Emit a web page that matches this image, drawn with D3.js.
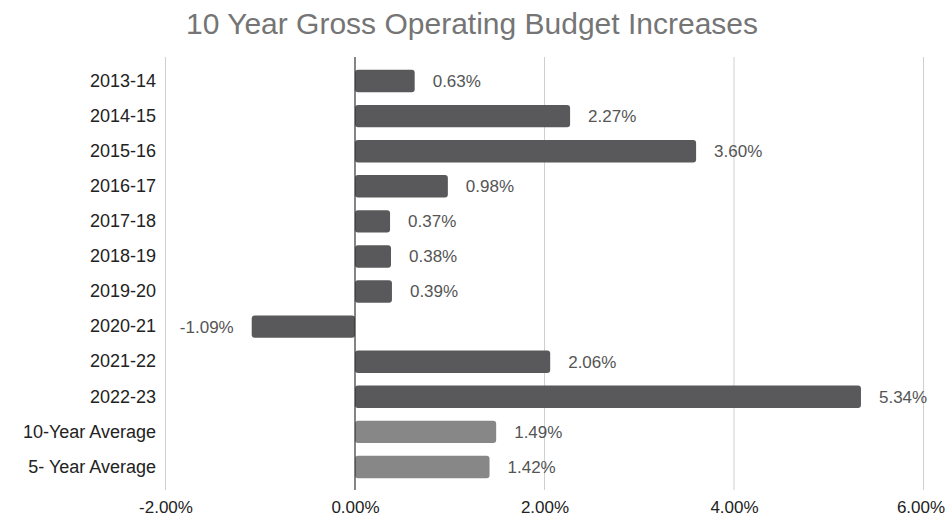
<!DOCTYPE html>
<html>
<head>
<meta charset="utf-8">
<script src="https://cdn.jsdelivr.net/npm/d3@7"></script>
<style>
  body { margin: 0; background: #fff; }
  text { font-family: "Liberation Sans", Arial, sans-serif; }
</style>
</head>
<body>
<div id="chart"></div>
<script>
// chart data
var categories = ["2013-14", "2014-15", "2015-16", "2016-17", "2017-18", "2018-19",
  "2019-20", "2020-21", "2021-22", "2022-23", "10-Year Average", "5- Year Average"];
var values = [0.63, 2.27, 3.60, 0.98, 0.37, 0.38, 0.39, -1.09, 2.06, 5.34, 1.49, 1.42];
var isAverage = [false, false, false, false, false, false, false, false, false, false, true, true];
var xTicks = [-2, 0, 2, 4, 6];

var svgWidth = 947;
var svgHeight = 523;

var svg = d3.select("#chart")
  .append("svg")
  .attr("width", svgWidth)
  .attr("height", svgHeight);

var rows = categories.map(function(c, i) {
  return { cat: c, value: values[i], avg: isAverage[i] };
});

// scales
var xScale = d3.scaleLinear()
  .domain([-2, 6])
  .range([165.5, 923.5]);

var yScale = d3.scaleBand()
  .domain(categories)
  .range([63.5, 484.5])
  .paddingInner(0.36)
  .paddingOuter(0.18);

var gridTop = 57;
var gridBottom = 490;

// title
svg.append("text")
  .attr("x", 472)
  .attr("y", 34)
  .attr("text-anchor", "middle")
  .attr("font-size", "30px")
  .attr("fill", "#757575")
  .text("10 Year Gross Operating Budget Increases");

// gridlines
svg.append("g")
  .selectAll("line")
  .data(xTicks.filter(function(t) { return t !== 0; }))
  .enter()
  .append("line")
  .attr("x1", function(d) { return xScale(d); })
  .attr("x2", function(d) { return xScale(d); })
  .attr("y1", gridTop)
  .attr("y2", gridBottom)
  .attr("stroke", "#cfcfcf")
  .attr("stroke-width", 1);

// x axis tick labels
var bottomAxis = d3.axisBottom(xScale)
  .tickValues(xTicks)
  .tickSize(0)
  .tickPadding(0)
  .tickFormat(function(d) { return d.toFixed(2) + "%"; });

var xAxis = svg.append("g")
  .attr("transform", "translate(0, 501)")
  .call(bottomAxis);
xAxis.select(".domain").remove();
xAxis.selectAll("text")
  .attr("font-size", "17px")
  .attr("fill", "#222")
  .attr("font-family", "Liberation Sans, Arial, sans-serif")
  .attr("dx", function(d) { return d === 6 ? -3 : 0; });

// category labels
var leftAxis = d3.axisLeft(yScale)
  .tickSize(0)
  .tickPadding(0);

var yAxis = svg.append("g")
  .attr("transform", "translate(156, 0)")
  .call(leftAxis);
yAxis.select(".domain").remove();
yAxis.selectAll("text")
  .attr("font-size", "18px")
  .attr("fill", "#222")
  .attr("font-family", "Liberation Sans, Arial, sans-serif");

// bars
svg.append("g")
  .selectAll("rect")
  .data(rows)
  .enter()
  .append("rect")
  .attr("x", function(d) { return xScale(Math.min(0, d.value)); })
  .attr("y", function(d) { return yScale(d.cat); })
  .attr("width", function(d) { return Math.abs(xScale(d.value) - xScale(0)); })
  .attr("height", yScale.bandwidth())
  .attr("rx", 3)
  .attr("fill", function(d) { return d.avg ? "#878787" : "#59595b"; });

// zero line
svg.append("line")
  .attr("x1", xScale(0))
  .attr("x2", xScale(0))
  .attr("y1", gridTop)
  .attr("y2", gridBottom)
  .attr("stroke", "#333")
  .attr("stroke-width", 1.2);

// value labels
svg.append("g")
  .selectAll("text")
  .data(rows)
  .enter()
  .append("text")
  .attr("x", function(d) {
    return d.value < 0 ? xScale(d.value) - 18 : xScale(d.value) + 18;
  })
  .attr("y", function(d) { return yScale(d.cat) + yScale.bandwidth() / 2; })
  .attr("dy", "0.35em")
  .attr("text-anchor", function(d) { return d.value < 0 ? "end" : "start"; })
  .attr("font-size", "17px")
  .attr("font-family", "Roboto, sans-serif")
  .attr("fill", "#555")
  .text(function(d) { return d.value.toFixed(2) + "%"; });
</script>
</body>
</html>
